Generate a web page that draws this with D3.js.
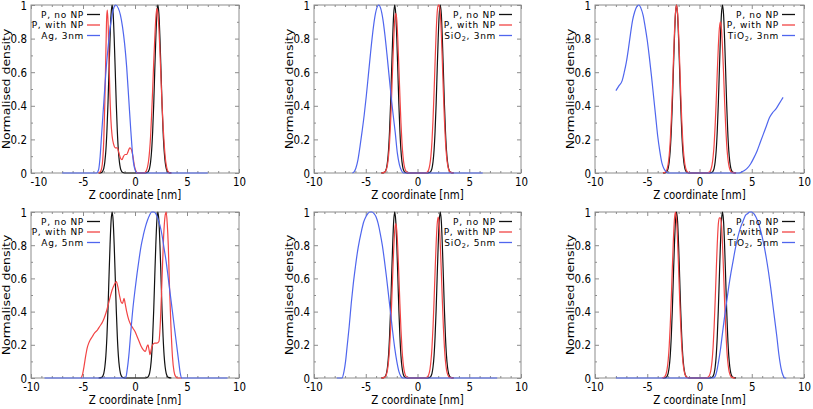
<!DOCTYPE html>
<html><head><meta charset="utf-8">
<script src="https://cdn.jsdelivr.net/npm/d3@7"></script>
<style>
html,body{margin:0;padding:0;background:#fff;}
svg{display:block;font-family:"DejaVu Sans",sans-serif;}
</style></head><body>
<svg id="chart" width="813" height="409"></svg>
<script>
// ---------- DATA ----------
const xDomain = [-10, 10];
const yDomain = [0, 1];
const xMajorTicks = [-10, -5, 0, 5, 10];
const xTickLabels = ["-10", "-5", "0", "5", "10"];
const xMinorTicks = [-9,-8,-7,-6,-4,-3,-2,-1,1,2,3,4,6,7,8,9];
const yMajorTicks = [0, 0.2, 0.4, 0.6, 0.8, 1];
const yTickLabels = ["0", "0.2", "0.4", "0.6", "0.8", "1"];
const yMinorTicks = [0.1, 0.3, 0.5, 0.7, 0.9];
const xTitle = "Z coordinate [nm]";
const yTitle = "Normalised density";
const seriesLabels = ["P, no NP", "P, with NP"];
// nanoparticle legend labels: [base, subscript, size]
const npLabels = [["Ag","","3nm"],["SiO","2","3nm"],["TiO","2","3nm"],["Ag","","5nm"],["SiO","2","5nm"],["TiO","2","5nm"]];

// P, no NP (same reference in every panel)
const pNoNP = [[-3.5,0],[-3.2,0.004],[-3.1,0.011],[-3.0,0.028],[-2.9,0.066],[-2.8,0.135],[-2.7,0.25],[-2.6,0.41],[-2.5,0.61],[-2.4,0.8],[-2.3,0.946],[-2.2,1],[-2.1,0.946],[-2.0,0.8],[-1.9,0.61],[-1.8,0.41],[-1.7,0.25],[-1.6,0.135],[-1.5,0.066],[-1.4,0.028],[-1.3,0.011],[-1.2,0.004],[-1.0,0],[1.0,0],[1.2,0.004],[1.3,0.011],[1.4,0.028],[1.5,0.066],[1.6,0.135],[1.7,0.25],[1.8,0.41],[1.9,0.61],[2.0,0.8],[2.1,0.946],[2.2,1],[2.3,0.946],[2.4,0.8],[2.5,0.61],[2.6,0.41],[2.7,0.25],[2.8,0.135],[2.9,0.066],[3.0,0.028],[3.1,0.011],[3.2,0.004],[3.5,0]];

// P, with NP
const pWithAg3 = [[-3.5,0],[-3.3,0.01],[-3.2,0.03],[-3.1,0.08],[-3.0,0.2],[-2.9,0.42],[-2.8,0.72],[-2.72,0.93],[-2.66,0.97],[-2.58,0.88],[-2.5,0.68],[-2.42,0.48],[-2.32,0.32],[-2.2,0.22],[-2.05,0.17],[-1.9,0.15],[-1.7,0.15],[-1.55,0.12],[-1.4,0.09],[-1.25,0.08],[-1.1,0.1],[-0.95,0.11],[-0.8,0.11],[-0.65,0.13],[-0.5,0.15],[-0.35,0.14],[-0.2,0.1],[-0.05,0.04],[0.1,0.01],[0.2,0],[0.9,0],[1.0,0.005],[1.1,0.015],[1.2,0.035],[1.3,0.07],[1.4,0.13],[1.5,0.22],[1.6,0.35],[1.7,0.5],[1.8,0.66],[1.9,0.8],[2.0,0.92],[2.1,0.98],[2.2,0.95],[2.3,0.86],[2.4,0.72],[2.5,0.56],[2.6,0.41],[2.7,0.28],[2.8,0.18],[2.9,0.1],[3.0,0.05],[3.1,0.02],[3.2,0.007],[3.35,0],[3.5,0]];
const pWithSiO3 = [[-3.5,0],[-3.2,0.004],[-3.1,0.01],[-3.0,0.023],[-2.9,0.05],[-2.8,0.1],[-2.7,0.18],[-2.6,0.3],[-2.5,0.46],[-2.4,0.63],[-2.3,0.79],[-2.2,0.91],[-2.1,0.95],[-2.0,0.91],[-1.9,0.79],[-1.8,0.63],[-1.7,0.46],[-1.6,0.3],[-1.5,0.18],[-1.4,0.1],[-1.3,0.05],[-1.2,0.023],[-1.1,0.01],[-1.0,0.004],[-0.8,0],[0.8,0],[1.0,0.01],[1.1,0.024],[1.2,0.053],[1.3,0.105],[1.4,0.191],[1.5,0.317],[1.6,0.48],[1.7,0.662],[1.8,0.832],[1.9,0.955],[2.0,1.0],[2.1,1.0],[2.2,0.955],[2.3,0.832],[2.4,0.662],[2.5,0.48],[2.6,0.317],[2.7,0.191],[2.8,0.105],[2.9,0.053],[3.0,0.024],[3.1,0.01],[3.2,0.004],[3.5,0]];
const pWithTiO3 = [[-3.5,0],[-3.3,0.004],[-3.2,0.01],[-3.1,0.024],[-3.0,0.053],[-2.9,0.105],[-2.8,0.191],[-2.7,0.317],[-2.6,0.48],[-2.5,0.662],[-2.4,0.832],[-2.3,0.955],[-2.2,1.0],[-2.1,0.955],[-2.0,0.832],[-1.9,0.662],[-1.8,0.48],[-1.7,0.317],[-1.6,0.191],[-1.5,0.105],[-1.4,0.053],[-1.3,0.024],[-1.2,0.01],[-1.1,0.004],[-0.9,0],[0.8,0],[0.9,0.004],[1.0,0.009],[1.1,0.022],[1.2,0.048],[1.3,0.095],[1.4,0.17],[1.5,0.285],[1.6,0.43],[1.7,0.6],[1.8,0.75],[1.9,0.86],[2.0,0.9],[2.1,0.86],[2.2,0.75],[2.3,0.6],[2.4,0.43],[2.5,0.285],[2.6,0.17],[2.7,0.095],[2.8,0.048],[2.9,0.022],[3.0,0.009],[3.1,0.004],[3.5,0]];
const pWithAg5 = [[-5.2,0],[-5.05,0.02],[-4.9,0.07],[-4.75,0.13],[-4.6,0.18],[-4.45,0.21],[-4.3,0.23],[-4.1,0.25],[-3.9,0.27],[-3.6,0.29],[-3.4,0.31],[-3.1,0.34],[-2.8,0.39],[-2.5,0.46],[-2.2,0.53],[-2.0,0.56],[-1.8,0.58],[-1.65,0.55],[-1.5,0.5],[-1.35,0.46],[-1.2,0.45],[-1.05,0.48],[-0.95,0.45],[-0.8,0.4],[-0.6,0.35],[-0.4,0.32],[-0.2,0.3],[0,0.28],[0.2,0.25],[0.4,0.22],[0.6,0.19],[0.8,0.17],[1.0,0.16],[1.15,0.19],[1.25,0.2],[1.35,0.17],[1.45,0.14],[1.55,0.17],[1.7,0.2],[1.9,0.21],[2.1,0.21],[2.3,0.22],[2.45,0.35],[2.6,0.6],[2.75,0.85],[2.9,0.98],[3.0,1.0],[3.1,0.93],[3.2,0.8],[3.3,0.58],[3.45,0.32],[3.6,0.13],[3.75,0.04],[3.9,0.01],[4.1,0],[4.5,0]];
const pWithSiO5 = [[-3.5,0],[-3.2,0.004],[-3.1,0.009],[-3.0,0.022],[-2.9,0.049],[-2.8,0.098],[-2.7,0.178],[-2.6,0.295],[-2.5,0.446],[-2.4,0.616],[-2.3,0.774],[-2.2,0.888],[-2.1,0.93],[-2.0,0.888],[-1.9,0.774],[-1.8,0.616],[-1.7,0.446],[-1.6,0.295],[-1.5,0.178],[-1.4,0.098],[-1.3,0.049],[-1.2,0.022],[-1.1,0.009],[-1.0,0.004],[-0.8,0],[0.7,0],[0.9,0.004],[1.0,0.01],[1.1,0.023],[1.2,0.051],[1.3,0.102],[1.4,0.185],[1.5,0.307],[1.6,0.466],[1.7,0.642],[1.8,0.807],[1.9,0.926],[2.0,0.97],[2.1,0.926],[2.2,0.807],[2.3,0.642],[2.4,0.466],[2.5,0.307],[2.6,0.185],[2.7,0.102],[2.8,0.051],[2.9,0.023],[3.0,0.01],[3.1,0.004],[3.5,0]];
const pWithTiO5 = [[-3.6,0],[-3.4,0.004],[-3.3,0.01],[-3.2,0.024],[-3.1,0.053],[-3.0,0.105],[-2.9,0.191],[-2.8,0.317],[-2.7,0.48],[-2.6,0.662],[-2.5,0.832],[-2.4,0.955],[-2.3,1.0],[-2.2,0.955],[-2.1,0.832],[-2.0,0.662],[-1.9,0.48],[-1.8,0.317],[-1.7,0.191],[-1.6,0.105],[-1.5,0.053],[-1.4,0.024],[-1.3,0.01],[-1.2,0.004],[-1.0,0],[0.6,0],[0.8,0.004],[0.9,0.01],[1.0,0.023],[1.1,0.051],[1.2,0.102],[1.3,0.185],[1.4,0.307],[1.5,0.466],[1.6,0.642],[1.7,0.807],[1.8,0.926],[1.9,0.965],[2.0,0.965],[2.1,0.926],[2.2,0.807],[2.3,0.642],[2.4,0.466],[2.5,0.307],[2.6,0.185],[2.7,0.102],[2.8,0.051],[2.9,0.023],[3.0,0.01],[3.1,0.004],[3.4,0]];

// Nanoparticle density
const npAg3 = [[-7,0],[-3.7,0],[-3.5,0.02],[-3.35,0.1],[-3.2,0.24],[-3.0,0.42],[-2.8,0.6],[-2.6,0.74],[-2.4,0.86],[-2.2,0.94],[-2.0,0.99],[-1.85,1.0],[-1.6,0.98],[-1.4,0.94],[-1.2,0.87],[-1.0,0.77],[-0.8,0.63],[-0.6,0.44],[-0.4,0.25],[-0.2,0.09],[0,0.02],[0.2,0],[7,0]];
const npSiO3 = [[-6.3,0],[-6.15,0.005],[-5.95,0.03],[-5.75,0.08],[-5.55,0.16],[-5.35,0.249],[-5.15,0.345],[-4.95,0.457],[-4.75,0.581],[-4.55,0.706],[-4.35,0.822],[-4.15,0.917],[-3.95,0.978],[-3.75,1.0],[-3.55,0.978],[-3.35,0.917],[-3.15,0.822],[-2.95,0.706],[-2.75,0.581],[-2.55,0.457],[-2.35,0.345],[-2.15,0.24],[-1.95,0.12],[-1.75,0.05],[-1.55,0.015],[-1.35,0],[6.3,0]];
const npTiO3 = [[-8.0,0.49],[-7.7,0.52],[-7.4,0.55],[-7.2,0.6],[-7.0,0.66],[-6.8,0.74],[-6.6,0.83],[-6.4,0.91],[-6.2,0.96],[-6.0,0.99],[-5.8,1.0],[-5.6,0.98],[-5.4,0.94],[-5.2,0.87],[-5.0,0.79],[-4.8,0.69],[-4.6,0.58],[-4.4,0.46],[-4.2,0.34],[-4.0,0.22],[-3.8,0.13],[-3.6,0.06],[-3.4,0.025],[-3.2,0.008],[-3.0,0],[3.8,0],[4.0,0.005],[4.3,0.015],[4.6,0.03],[4.9,0.055],[5.2,0.09],[5.5,0.13],[5.8,0.18],[6.1,0.23],[6.4,0.28],[6.7,0.33],[7.0,0.36],[7.3,0.38],[7.6,0.41],[8.0,0.45]];
const npAg5 = [[-8.7,0],[-0.9,0],[-0.75,0.05],[-0.6,0.13],[-0.4,0.28],[-0.2,0.42],[0,0.53],[0.2,0.63],[0.4,0.72],[0.6,0.8],[0.8,0.86],[1.0,0.91],[1.2,0.95],[1.4,0.98],[1.6,1.0],[1.8,1.0],[2.0,0.99],[2.2,0.96],[2.4,0.92],[2.6,0.86],[2.8,0.78],[3.0,0.7],[3.2,0.6],[3.4,0.5],[3.6,0.4],[3.8,0.3],[4.0,0.2],[4.2,0.1],[4.35,0.03],[4.5,0],[8.9,0]];
const npSiO5 = [[-7.8,0],[-7.3,0],[-7.1,0.04],[-6.95,0.1],[-6.8,0.19],[-6.6,0.31],[-6.4,0.45],[-6.2,0.57],[-6.0,0.67],[-5.8,0.76],[-5.6,0.83],[-5.4,0.89],[-5.2,0.94],[-5.0,0.97],[-4.8,0.99],[-4.6,1.0],[-4.4,1.0],[-4.2,0.99],[-4.0,0.97],[-3.8,0.93],[-3.6,0.87],[-3.4,0.8],[-3.2,0.71],[-3.0,0.61],[-2.8,0.5],[-2.6,0.39],[-2.4,0.28],[-2.2,0.18],[-2.0,0.1],[-1.8,0.04],[-1.6,0.01],[-1.4,0],[7.7,0]];
const npTiO5 = [[-8.0,0],[1.3,0],[1.5,0.01],[1.65,0.04],[1.8,0.09],[2.0,0.17],[2.2,0.27],[2.4,0.37],[2.6,0.46],[2.8,0.55],[3.0,0.63],[3.2,0.7],[3.4,0.77],[3.6,0.83],[3.8,0.88],[4.0,0.92],[4.2,0.95],[4.4,0.98],[4.6,0.99],[4.8,1.0],[5.0,1.0],[5.2,0.99],[5.4,0.97],[5.6,0.94],[5.8,0.9],[6.0,0.85],[6.2,0.79],[6.4,0.72],[6.6,0.64],[6.8,0.55],[7.0,0.45],[7.2,0.35],[7.4,0.25],[7.6,0.14],[7.8,0.06],[8.0,0.015],[8.15,0],[8.3,0]];

const withNP = [pWithAg3, pWithSiO3, pWithTiO3, pWithAg5, pWithSiO5, pWithTiO5];
const npDensity = [npAg3, npSiO3, npTiO3, npAg5, npSiO5, npTiO5];

// ---------- LAYOUT / STYLE ----------
const colors = ["#111111", "#f24444", "#4f66ee"];
const frameColor = "#8c8c8c";
const cols = [[31, 239], [314, 521], [595, 804]];
const rows = [[5, 173], [212, 378]];
const FS = 12.5, SX = 0.82;

const svg = d3.select("#chart");

npLabels.forEach((lab, i) => {
  const [x0, x1] = cols[i % 3];
  const [y0, y1] = rows[Math.floor(i / 3)];
  const x = d3.scaleLinear().domain(xDomain).range([x0, x1]);
  const y = d3.scaleLinear().domain(yDomain).range([y1, y0]);
  const g = svg.append("g");

  function styleAxis(sel, withText) {
    sel.select(".domain").remove();
    sel.selectAll(".tick line").attr("stroke", frameColor).attr("stroke-width", 1);
    sel.attr("font-family", "DejaVu Sans").attr("font-size", FS);
    if (withText) sel.selectAll(".tick text").attr("fill", "#000").attr("transform", `scale(${SX},1)`);
  }

  // ticks (inside, all four sides)
  g.append("g").attr("transform", `translate(0,${y1})`)
    .call(d3.axisBottom(x).tickValues(xMinorTicks).tickSize(-2).tickFormat(""))
    .call(s => styleAxis(s, false));
  g.append("g").attr("transform", `translate(0,${y0})`)
    .call(d3.axisTop(x).tickValues(xMinorTicks).tickSize(-2).tickFormat(""))
    .call(s => styleAxis(s, false));
  g.append("g").attr("transform", `translate(0,${y0})`)
    .call(d3.axisTop(x).tickValues(xMajorTicks).tickSize(-4).tickFormat(""))
    .call(s => styleAxis(s, false));
  g.append("g").attr("transform", `translate(${x0},0)`)
    .call(d3.axisLeft(y).tickValues(yMinorTicks).tickSize(-2).tickFormat(""))
    .call(s => styleAxis(s, false));
  g.append("g").attr("transform", `translate(${x1},0)`)
    .call(d3.axisRight(y).tickValues(yMinorTicks).tickSize(-2).tickFormat(""))
    .call(s => styleAxis(s, false));
  g.append("g").attr("transform", `translate(${x1},0)`)
    .call(d3.axisRight(y).tickValues(yMajorTicks).tickSize(-4).tickFormat(""))
    .call(s => styleAxis(s, false));

  const bottom = g.append("g").attr("transform", `translate(0,${y1})`)
    .call(d3.axisBottom(x).tickValues(xMajorTicks).tickSize(-4).tickPadding(4)
      .tickFormat((d, k) => xTickLabels[k]))
    .call(s => styleAxis(s, true));
  if (i === 0) bottom.selectAll(".tick text").filter((d, k) => k === 0).attr("x", 9);

  g.append("g").attr("transform", `translate(${x0},0)`)
    .call(d3.axisLeft(y).tickValues(yMajorTicks).tickSize(-4).tickPadding(5)
      .tickFormat((d, k) => yTickLabels[k]))
    .call(s => styleAxis(s, true));

  // frame
  g.append("rect").attr("x", x0).attr("y", y0).attr("width", x1 - x0).attr("height", y1 - y0)
    .attr("fill", "none").attr("stroke", frameColor).attr("stroke-width", 1);

  // axis titles
  g.append("text").attr("x", 0).attr("y", 0)
    .attr("transform", `translate(${(x0 + x1) / 2},${y1 + 26}) scale(${SX},1)`)
    .attr("text-anchor", "middle").attr("font-size", FS).attr("fill", "#000").text(xTitle);
  g.append("text").attr("x", 0).attr("y", 0).attr("dy", "0.35em")
    .attr("transform", `translate(${x0 - 25},${(y0 + y1) / 2}) rotate(-90) scale(1,${SX})`)
    .attr("text-anchor", "middle").attr("font-size", FS).attr("fill", "#000").text(yTitle);

  // curves
  const line = d3.line().x(d => x(d[0])).y(d => y(d[1])).curve(d3.curveMonotoneX);
  [pNoNP, withNP[i], npDensity[i]].forEach((data, k) => {
    g.append("path").datum(data).attr("d", line).attr("fill", "none")
      .attr("stroke", colors[k]).attr("stroke-width", 1.2).attr("stroke-linejoin", "round");
  });

  // legend
  const leftLegend = (i % 3 === 0);
  const lineEnd = leftLegend ? x0 + 69 : x1 - 9;
  const lineStart = lineEnd - 13;
  const textEnd = lineStart - 3;
  const rowY = [y0 + 9.5, y0 + 20, y0 + 30.5];
  rowY.forEach((ry, k) => {
    g.append("line").attr("x1", lineStart).attr("x2", lineEnd).attr("y1", ry).attr("y2", ry)
      .attr("stroke", colors[k]).attr("stroke-width", 1.3);
    const t = g.append("text").attr("x", textEnd).attr("y", ry).attr("dy", "0.35em")
      .attr("text-anchor", "end").attr("font-size", 9).attr("letter-spacing", 0.7).attr("fill", "#000");
    if (k < 2) t.text(seriesLabels[k]);
    else {
      t.append("tspan").text(lab[0]);
      if (lab[1]) t.append("tspan").attr("font-size", 6.5).attr("dy", 2.5).text(lab[1]);
      t.append("tspan").attr("dy", lab[1] ? -2.5 : 0).text(", " + lab[2]);
    }
  });
});
</script>
</body></html>
